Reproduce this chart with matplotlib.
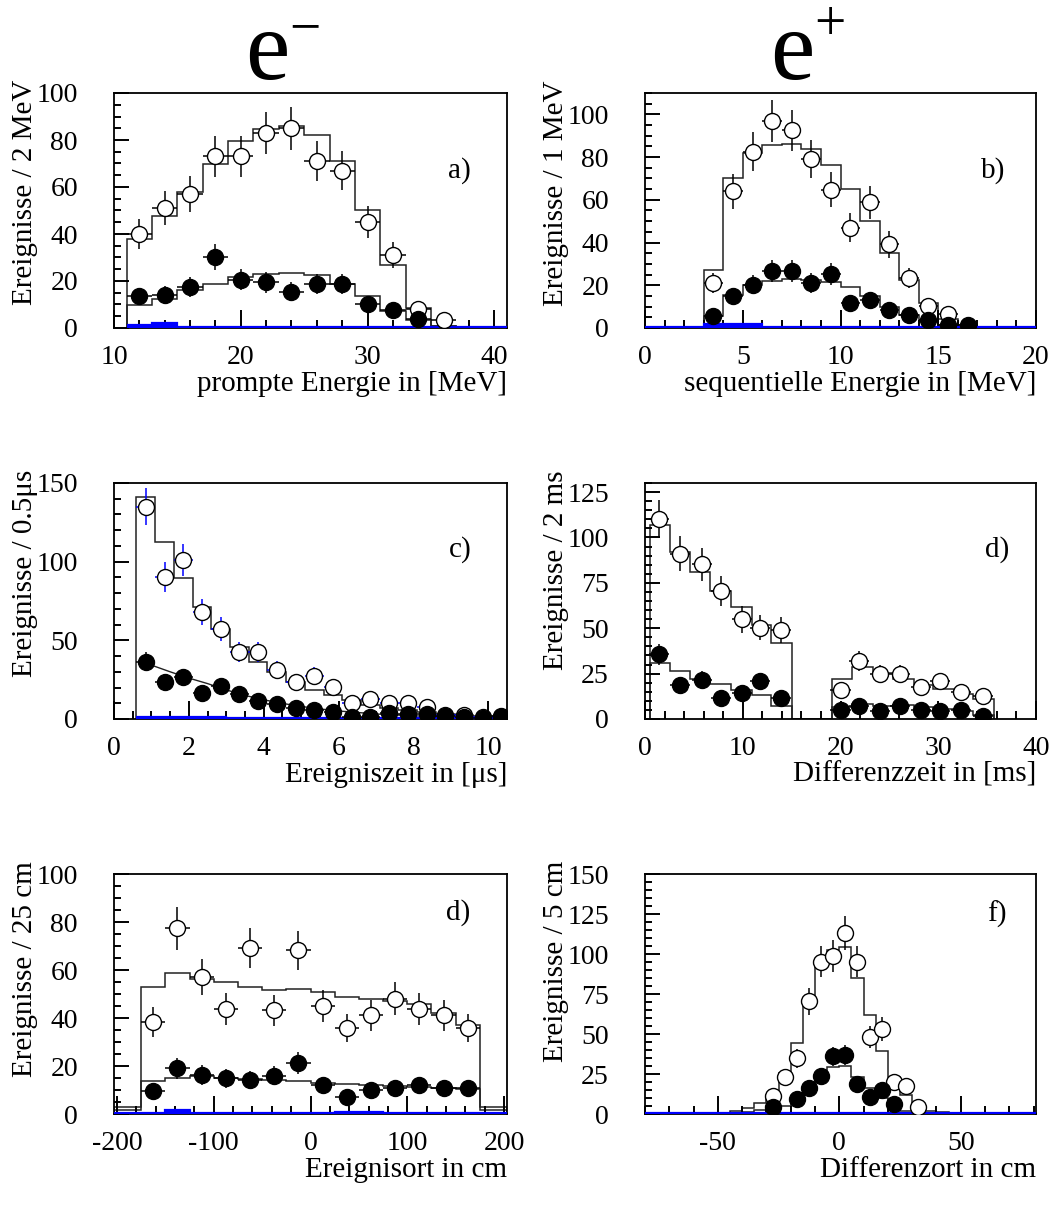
import numpy as np
import matplotlib
matplotlib.use("Agg")
import matplotlib.pyplot as plt
from matplotlib.ticker import MultipleLocator

plt.rcParams['font.family'] = ['Liberation Serif', 'DejaVu Serif']
plt.rcParams['axes.unicode_minus'] = False

# ---- a) prompte Energie (e-) ----
a_edges = [11, 13, 15, 17, 19, 21, 23, 25, 27, 29, 31, 33, 35, 37]
a_x = [12, 14, 16, 18, 20, 22, 24, 26, 28, 30, 32, 34, 36]
a_open = [40, 51, 57, 73, 73, 83, 85, 71, 67, 45, 31, 8, 3.5]
a_open_mc = [38, 47.5, 57.7, 69.8, 79.4, 84.7, 85.8, 82.3, 71, 50.4, 26.7, 8.5, 0.7]
a_fill = [13.5, 14.2, 17.4, 30.2, 20.6, 19.4, 15.5, 18.6, 18.7, 10.2, 7.8, 3.8]
a_fill_mc = [9.6, 12.3, 16, 18.9, 21.7, 23, 23.4, 22.7, 18.9, 13.8, 7.4, 3.5, 0.7]
a_bg_edges = [11, 13, 15, 41]
a_bg = [1.4, 2.3, 0.5]

# ---- b) sequentielle Energie (e+) ----
b_edges = [3, 4, 5, 6, 7, 8, 9, 10, 11, 12, 13, 14, 15, 16, 17]
b_x = [3.5, 4.5, 5.5, 6.5, 7.5, 8.5, 9.5, 10.5, 11.5, 12.5, 13.5, 14.5, 15.5]
b_open = [21.2, 63.9, 82.6, 96.9, 92.6, 78.9, 64.8, 47, 58.9, 39.2, 23.4, 10.4, 6.5]
b_open_mc = [27.1, 70, 82, 85.6, 86, 83.7, 76.3, 65, 50, 34.9, 22.5, 11.6, 4.2, 1.5]
b_fx = [3.5, 4.5, 5.5, 6.5, 7.5, 8.5, 9.5, 10.5, 11.5, 12.5, 13.5, 14.5, 15.5, 16.5]
b_fill = [5.4, 15, 20.2, 26.7, 26.7, 21.2, 25.3, 11.9, 13.2, 8.2, 6, 3.6, 1.6, 1.6]
b_fill_mc = [5.7, 15.5, 20.2, 22, 22.8, 22.5, 21.7, 19, 15, 10, 6.2, 3.6, 1.6, 0.5]
b_bg_edges = [0, 3, 6, 20]
b_bg = [0.6, 1.8, 0.6]

# ---- c) Ereigniszeit (e-) ----
c_edges = [0.6, 1.1, 1.6, 2.1, 2.6, 3.1, 3.6, 4.1, 4.6, 5.1, 5.6, 6.1, 6.6, 7.1,
           7.6, 8.1, 8.6, 9.1, 9.6, 10.1, 10.6]
c_x = [0.85, 1.35, 1.85, 2.35, 2.85, 3.35, 3.85, 4.35, 4.85, 5.35, 5.85, 6.35,
       6.85, 7.35, 7.85, 8.35, 8.85, 9.35, 9.85, 10.35]
c_open = [135, 90.3, 101, 67.9, 57, 42.5, 42.5, 31.4, 23.6, 27.5, 20.4, 9.9,
          12.5, 9.9, 9.9, 7.5, 2.8, 2.8, 1.3, 1.0]
c_open_mc = [141, 112.4, 89.8, 71.1, 57, 45.8, 36.5, 29.7, 23.2, 18.5, 15.3, 11.8,
             9.2, 7.1, 5.6, 4.3, 3.4, 2.4, 1.9, 1.5]
c_fill = [36.5, 23.6, 26.9, 16.8, 21, 15.7, 11.4, 9.7, 7.1, 5.6, 4.7, 1.1,
          1.1, 3.9, 3.2, 3.4, 2.1, 1.3, 0.9, 1.7]
c_fit_x = [0.85, 1.5, 2.0, 2.5, 3.0, 3.5, 4.0, 4.5, 5.0, 5.5, 6.0, 7.0, 8.0, 9.0, 10.0, 10.5]
c_fit_y = [35.5, 30, 26, 22.5, 18.5, 15, 12.2, 9.9, 8.0, 6.4, 5.1, 3.2, 2.0, 1.3, 0.8, 0.6]
c_bg_edges = [0.6, 3.0, 10.6]
c_bg = [1.0, 0.7]

# ---- d) Differenzzeit (e+) ----
d_edges = [0.55, 2.6, 4.6, 6.7, 8.8, 10.9, 12.9, 15.0, 19.1, 21.2, 23.3, 25.4,
           27.5, 29.5, 31.6, 33.6, 35.7]
d_x = [1.4, 3.6, 5.8, 7.8, 9.9, 11.8, 13.9, 20.0, 21.9, 24.0, 26.1, 28.2, 30.2,
       32.3, 34.6]
d_open = [110.2, 91.1, 85.2, 70.4, 55, 50.4, 49.1, 15.7, 32, 24.6, 24.6, 17.6,
          20.7, 14.8, 12.8]
d_open_mc = [106.9, 92, 80.9, 70.4, 61.7, 51.9, 42, 0, 22.2, 28.7, 25.4, 22.2,
             18.5, 16.7, 13.9, 11.1]
d_fill = [35.6, 18.9, 21.7, 11.5, 14.3, 20.7, 11.5, 5.2, 7.4, 4.6, 7.4, 5.2, 4.6,
          5.2, 1.9]
d_fill_mc = [30.9, 26.3, 22.2, 19.4, 15.7, 13, 7.4, 0, 6.5, 8, 6.9, 7.8, 6.5,
             5.6, 4.6, 2.2]

# ---- e) Ereignisort (e-) ----
e_edges = [-203, -175, -150, -125, -100, -75, -50, -25, 0, 25, 50, 75, 100, 125,
           150, 175, 203]
e_x = [-162.5, -137.5, -112.5, -87.5, -62.5, -37.5, -12.5, 12.5, 37.5, 62.5,
       87.5, 112.5, 137.5, 162.5]
e_open = [38.2, 77.3, 57, 43.8, 69, 43.2, 68.2, 44.9, 35.8, 41.1, 48, 43.9, 41.1, 35.8]
e_open_mc = [3, 52.9, 58.6, 56.3, 55.1, 52.9, 51.6, 51.9, 50.9, 48.7, 48, 47, 46,
             42.1, 37.2, 3]
e_fill = [9.6, 19.1, 16.3, 14.9, 14.2, 16, 21.2, 12.1, 7, 10, 10.7, 11.9, 11, 10.7]
e_fill_mc = [1.5, 13.9, 15.2, 15.9, 14.9, 14.5, 14.2, 13.8, 12.8, 12.6, 12.1,
             11.7, 11.4, 11, 10.3, 1.5]
e_bg_edges = [-203, -150, -125, 25, 75, 203]
e_bg = [0.6, 1.5, 0.5, 0.8, 0.5]

# ---- f) Differenzort (e+) ----
f_edges = [-45, -40, -35, -30, -25, -20, -15, -10, -5, 0, 5, 10, 15, 20, 25, 30,
           35, 40, 45]
f_x = [-27.5, -22.5, -17.5, -12.5, -7.5, -2.5, 2.5, 7.5, 12.5, 17.5, 22.5, 27.5, 32.5]
f_open = [11.3, 23, 34.9, 70.5, 95.2, 98.7, 113, 95.2, 47.9, 53.1, 20.3, 17.2, 4.2]
f_open_mc = [2, 3.6, 6.7, 12, 25.5, 44.4, 69.5, 91.8, 102.5, 104.6, 85.1, 62.1,
             39.1, 23, 12, 2.5, 2, 1]
f_fx = [-27.5, -17.5, -12.5, -7.5, -2.5, 2.5, 7.5, 12.5, 17.5, 22.5]
f_fill = [4.6, 9.4, 16.1, 23.8, 36, 37, 18.8, 10.5, 15.1, 6.1]
f_fill_mc = [0, 1, 2.5, 4.6, 5, 9.8, 15, 21.3, 29.3, 29.7, 23.4, 16.1, 9.8, 4.6,
             2, 1, 0, 0]
f_bg_edges = [-80, 81]
f_bg = [0.7]

W, H = 1055, 1207
fig = plt.figure(figsize=(W / 100, H / 100), dpi=100)

TICK = 20
LAB = 21
BLUE = '#0000ff'


def make_ax(l, t, r, b):
    ax = fig.add_axes([l / W, 1 - b / H, (r - l) / W, (b - t) / H])
    for s in ax.spines.values():
        s.set_linewidth(1.3)
    ax.tick_params(which='both', direction='in', top=False, right=False,
                   width=1.4, labelsize=TICK)
    ax.tick_params(axis='y', which='major', length=11, pad=26)
    ax.tick_params(axis='y', which='minor', length=5)
    ax.tick_params(axis='x', which='major', length=13, pad=12)
    ax.tick_params(axis='x', which='minor', length=6)
    return ax


def labels(ax, ylab, xlab, tag, tx, ty):
    h = ax.get_position().height * H
    ax.text(-89 / 393, 1 + 13 / h, ylab, rotation=90, ha='center', va='top',
            fontsize=LAB, transform=ax.transAxes)
    ax.text(1.0, -56 / h, xlab, ha='right', va='center', fontsize=LAB,
            transform=ax.transAxes)
    ax.text(tx, ty, tag, ha='center', va='center', fontsize=LAB,
            transform=ax.transAxes)


def background(ax, vals, edges):
    ax.stairs(vals, edges, fill=True, color=BLUE, zorder=3)
    ax.stairs(vals, edges, color=BLUE, lw=1.6, baseline=None, zorder=3)


def points(ax, x, y, xerr, filled, ecolor='black'):
    y = np.asarray(y, float)
    ax.errorbar(x, y, yerr=np.sqrt(y), xerr=xerr, fmt='o', ms=11.5,
                mfc='black' if filled else 'white', mec='black', mew=1.0,
                ecolor=ecolor, elinewidth=1.1, capsize=0, zorder=4)


# a)
ax = make_ax(114, 93, 507, 328)
background(ax, a_bg, a_bg_edges)
ax.stairs(a_open_mc, a_edges, color='#222222', lw=1.1, baseline=0)
ax.stairs(a_fill_mc, a_edges, color='#222222', lw=1.1, baseline=0)
points(ax, a_x, a_open, 1, False)
points(ax, a_x[:len(a_fill)], a_fill, 1, True)
ax.set_xlim(10, 41)
ax.set_ylim(0, 100)
ax.xaxis.set_major_locator(MultipleLocator(10))
ax.xaxis.set_minor_locator(MultipleLocator(2))
ax.yaxis.set_major_locator(MultipleLocator(20))
ax.yaxis.set_minor_locator(MultipleLocator(5))
labels(ax, 'Ereignisse / 2 MeV', 'prompte Energie in [MeV]', 'a)', 0.88, 0.67)

# b)
ax = make_ax(645, 93, 1036, 328)
background(ax, b_bg, b_bg_edges)
ax.stairs(b_open_mc, b_edges, color='#222222', lw=1.1, baseline=0)
ax.stairs(b_fill_mc, b_edges, color='#222222', lw=1.1, baseline=0)
points(ax, b_x, b_open, 0.5, False)
points(ax, b_fx, b_fill, 0.5, True)
ax.set_xlim(0, 20)
ax.set_ylim(0, 110)
ax.xaxis.set_major_locator(MultipleLocator(5))
ax.xaxis.set_minor_locator(MultipleLocator(1))
ax.yaxis.set_major_locator(MultipleLocator(20))
ax.yaxis.set_minor_locator(MultipleLocator(5))
labels(ax, 'Ereignisse / 1 MeV', 'sequentielle Energie in [MeV]', 'b)', 0.89, 0.67)

# c)
ax = make_ax(114, 483, 507, 719)
background(ax, c_bg, c_bg_edges)
ax.stairs(c_open_mc, c_edges, color='#222222', lw=1.1, baseline=0)
ax.plot(c_fit_x, c_fit_y, color='#222222', lw=1.0)
points(ax, c_x, c_open, 0.25, False, ecolor=BLUE)
points(ax, c_x, c_fill, 0.25, True)
ax.set_xlim(0, 10.5)
ax.set_ylim(0, 150)
ax.xaxis.set_major_locator(MultipleLocator(2))
ax.xaxis.set_minor_locator(MultipleLocator(0.5))
ax.yaxis.set_major_locator(MultipleLocator(50))
ax.yaxis.set_minor_locator(MultipleLocator(10))
labels(ax, 'Ereignisse / 0.5μs', 'Ereigniszeit in [μs]', 'c)', 0.88, 0.72)

# d)
ax = make_ax(645, 483, 1036, 719)
ax.stairs(d_open_mc, d_edges, color='#222222', lw=1.1, baseline=0)
ax.stairs(d_fill_mc, d_edges, color='#222222', lw=1.1, baseline=0)
points(ax, d_x, d_open, 1.03, False)
points(ax, d_x, d_fill, 1.03, True)
ax.set_xlim(0, 40)
ax.set_ylim(0, 130)
ax.xaxis.set_major_locator(MultipleLocator(10))
ax.xaxis.set_minor_locator(MultipleLocator(2))
ax.yaxis.set_major_locator(MultipleLocator(25))
ax.yaxis.set_minor_locator(MultipleLocator(5))
labels(ax, 'Ereignisse / 2 ms', 'Differenzzeit in [ms]', 'd)', 0.9, 0.72)

# e)
ax = make_ax(114, 874, 507, 1114)
background(ax, e_bg, e_bg_edges)
ax.stairs(e_open_mc, e_edges, color='#222222', lw=1.1, baseline=0)
ax.stairs(e_fill_mc, e_edges, color='#222222', lw=1.1, baseline=0)
points(ax, e_x, e_open, 12.5, False)
points(ax, e_x, e_fill, 12.5, True)
ax.set_xlim(-203, 203)
ax.set_ylim(0, 100)
ax.xaxis.set_major_locator(MultipleLocator(100))
ax.xaxis.set_minor_locator(MultipleLocator(20))
ax.yaxis.set_major_locator(MultipleLocator(20))
ax.yaxis.set_minor_locator(MultipleLocator(5))
labels(ax, 'Ereignisse / 25 cm', 'Ereignisort in cm', 'd)', 0.875, 0.84)

# f)
ax = make_ax(645, 874, 1036, 1114)
background(ax, f_bg, f_bg_edges)
ax.stairs(f_open_mc, f_edges, color='#222222', lw=1.1, baseline=0)
ax.stairs(f_fill_mc, f_edges, color='#222222', lw=1.1, baseline=0)
points(ax, f_x, f_open, 2.5, False)
points(ax, f_fx, f_fill, 2.5, True)
ax.set_xlim(-80, 81)
ax.set_ylim(0, 150)
ax.xaxis.set_major_locator(MultipleLocator(50))
ax.xaxis.set_minor_locator(MultipleLocator(10))
ax.yaxis.set_major_locator(MultipleLocator(25))
ax.yaxis.set_minor_locator(MultipleLocator(5))
labels(ax, 'Ereignisse / 5 cm', 'Differenzort in cm', 'f)', 0.9, 0.83)

# column headings: e with superscript sign
fig.text(245 / W, 1 - 79 / H, 'e', fontsize=72, ha='left', va='baseline')
fig.text(289 / W, 1 - 44 / H, '\u2212', fontsize=40, ha='left', va='baseline')
fig.text(770 / W, 1 - 79 / H, 'e', fontsize=72, ha='left', va='baseline')
fig.text(814 / W, 1 - 40 / H, '+', fontsize=40, ha='left', va='baseline')

fig.savefig('out.png', dpi=100)
